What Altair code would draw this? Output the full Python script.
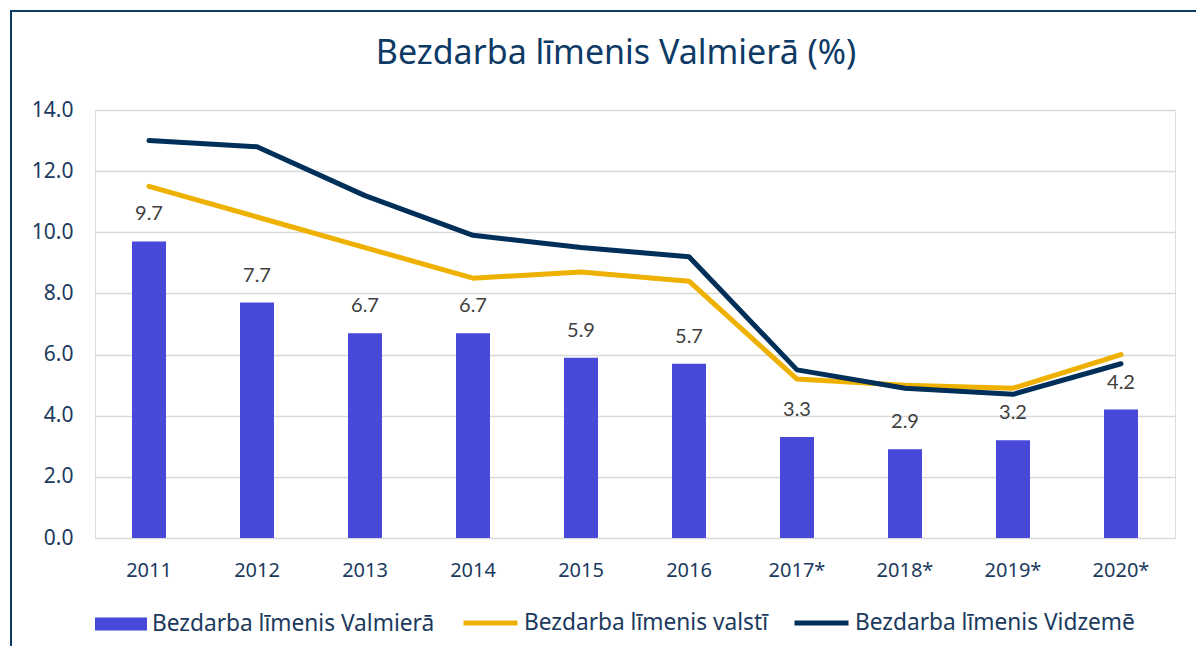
import altair as alt
import pandas as pd

years = ["2011", "2012", "2013", "2014", "2015", "2016", "2017*", "2018*", "2019*", "2020*"]
valmiera = [9.7, 7.7, 6.7, 6.7, 5.9, 5.7, 3.3, 2.9, 3.2, 4.2]
valsti = [11.5, 10.5, 9.5, 8.5, 8.7, 8.4, 5.2, 5.0, 4.9, 6.0]
vidzeme = [13.0, 12.8, 11.2, 9.9, 9.5, 9.2, 5.5, 4.9, 4.7, 5.7]

s_bar = "Bezdarba līmenis Valmierā"
s_valsti = "Bezdarba līmenis valstī"
s_vidz = "Bezdarba līmenis Vidzemē"
title_text = "Bezdarba līmenis Valmierā (%)"

NAVY = "#0E3A66"
AXIS_TXT = "#1B3A5E"
FONT = "Noto Sans"

bars_df = pd.DataFrame({"year": years, "value": valmiera, "series": [s_bar] * len(years)})
lines_df = pd.DataFrame({
    "year": years * 2,
    "value": valsti + vidzeme,
    "series": [s_valsti] * len(years) + [s_vidz] * len(years),
})

xenc = alt.X("year:N", sort=years, title=None,
             scale=alt.Scale(paddingInner=0, paddingOuter=0),
             axis=alt.Axis(labelAngle=0, labelFontSize=20, labelColor=AXIS_TXT, labelFont=FONT,
                           labelPadding=22, ticks=False, domain=False, grid=False))
yenc = alt.Y("value:Q", title=None,
             scale=alt.Scale(domain=[0, 14], nice=False),
             axis=alt.Axis(values=[0, 2, 4, 6, 8, 10, 12, 14], format=".1f", labelFontSize=21,
                           labelColor=AXIS_TXT, labelFont=FONT, labelPadding=22, ticks=False,
                           domain=False, grid=True, gridColor="#D9D9D9", gridWidth=1.5))

bars = alt.Chart(bars_df).mark_bar(size=34, color="#4848D9").encode(
    x=xenc, y=yenc,
    fill=alt.Fill("series:N", scale=alt.Scale(domain=[s_bar], range=["#4848D9"]),
                  legend=alt.Legend(title=None, orient="none", legendX=0, legendY=488,
                                    direction="horizontal", symbolType="M-1,-0.25H1V0.25H-1Z",
                                    symbolSize=2704, symbolStrokeWidth=0, labelFontSize=22.7,
                                    labelFont=FONT, labelColor=AXIS_TXT, labelOffset=5,
                                    padding=0, labelLimit=400)),
)

labels = alt.Chart(bars_df).mark_text(dy=-17, baseline="bottom", fontSize=20,
                                      color="#404040", font="Lato").encode(
    x=alt.X("year:N", sort=years), y="value:Q", text=alt.Text("value:Q", format=".1f"))

lines = alt.Chart(lines_df).mark_line(strokeWidth=5, strokeCap="round", strokeJoin="round").encode(
    x=alt.X("year:N", sort=years), y="value:Q",
    stroke=alt.Stroke("series:N",
                      scale=alt.Scale(domain=[s_valsti, s_vidz], range=["#EEB100", "#002F5A"]),
                      legend=alt.Legend(title=None, orient="none", legendX=366, legendY=483,
                                        direction="horizontal", symbolType="stroke",
                                        symbolSize=2916, symbolStrokeWidth=5, labelFontSize=22.7,
                                        labelFont=FONT, labelColor=AXIS_TXT, labelOffset=4,
                                        columnPadding=16, padding=0, labelLimit=400)),
    detail="series:N",
)

frame_df = pd.DataFrame({"k": [0]})
left_border = alt.Chart(frame_df).mark_rule(color=NAVY, strokeWidth=2).encode(
    x=alt.value(-84), y=alt.value(-100), y2=alt.value(546))
top_border = alt.Chart(frame_df).mark_rule(color=NAVY, strokeWidth=2).encode(
    x=alt.value(-85), x2=alt.value(1109), y=alt.value(-99))
title = alt.Chart(frame_df).mark_text(text=title_text, fontSize=34, font=FONT, color=NAVY,
                                      align="center", baseline="alphabetic").encode(
    x=alt.value(521), y=alt.value(-46))

chart = alt.layer(bars, lines, labels, left_border, top_border, title).properties(
    width=1080, height=428,
    autosize=alt.AutoSizeParams(type="none"),
    padding={"left": 87, "top": 102, "right": 21, "bottom": 108},
).configure_view(stroke=None).configure(background="white")

chart.save("out.html", embed_options={"renderer": "svg", "actions": False})
